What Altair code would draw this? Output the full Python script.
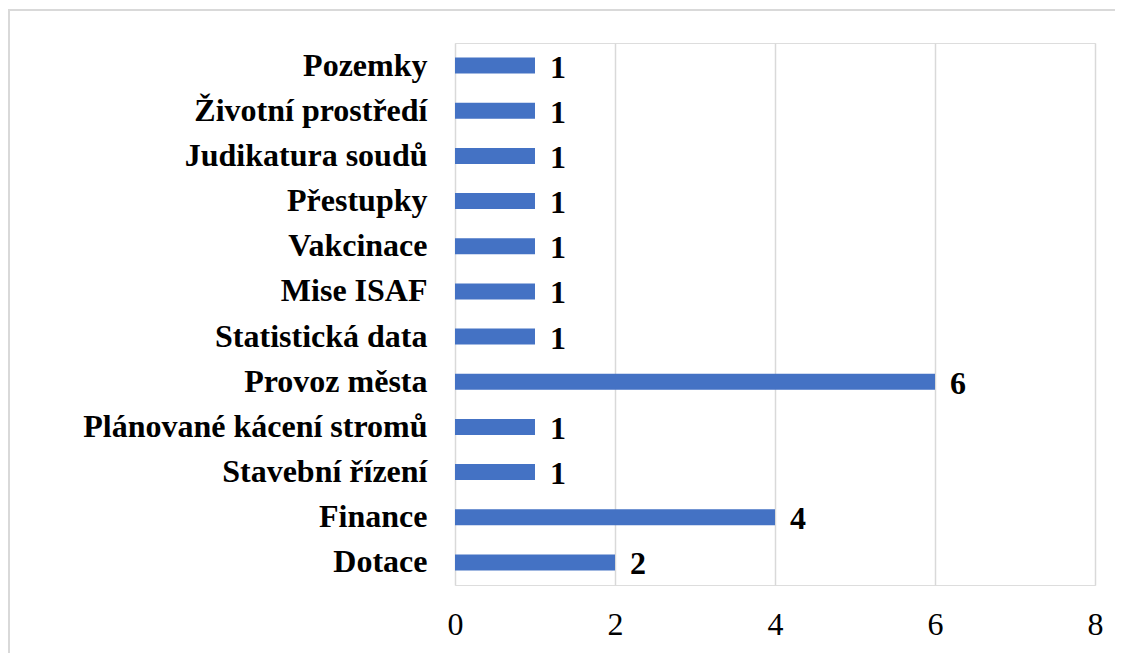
import altair as alt
import pandas as pd

categories = ["Pozemky", "Životní prostředí", "Judikatura soudů", "Přestupky",
              "Vakcinace", "Mise ISAF", "Statistická data", "Provoz města",
              "Plánované kácení stromů", "Stavební řízení", "Finance", "Dotace"]
values = [1, 1, 1, 1, 1, 1, 1, 6, 1, 1, 4, 2]
x_ticks = [0, 2, 4, 6, 8]

df = pd.DataFrame({"kategorie": categories, "pocet": values})

FONT = "Liberation Serif"
W, H = 640, 542

y_enc = alt.Y("kategorie:N", sort=categories,
              scale=alt.Scale(paddingInner=0, paddingOuter=0),
              axis=alt.Axis(title=None, domain=False, ticks=False, labelFont=FONT,
                            labelFontSize=32, labelFontWeight="bold", labelColor="#000000",
                            labelPadding=28, labelLimit=500))
x_enc = alt.X("pocet:Q", scale=alt.Scale(domain=[0, 8], nice=False),
              axis=alt.Axis(title=None, values=x_ticks, format="d", domain=False, ticks=False,
                            grid=True, gridColor="#d9d9d9", gridWidth=1.5, labelFlush=False,
                            labelFont=FONT, labelFontSize=32, labelColor="#000000",
                            labelPadding=24))

bars = alt.Chart(df).mark_bar(size=16, color="#4472C4").encode(x=x_enc, y=y_enc)

labels = alt.Chart(df).mark_text(align="left", baseline="middle", dx=15, dy=2,
                                 font=FONT, fontSize=32, fontWeight="bold",
                                 color="#000000").encode(
    x="pocet:Q", y=alt.Y("kategorie:N", sort=categories), text="pocet:Q")

frame = alt.Chart(df).mark_rect(fill=None, stroke="#d9d9d9", strokeWidth=1.5).encode(
    x=alt.value(-446), x2=alt.value(W + 60), y=alt.value(-33), y2=alt.value(H + 100))

chart = alt.layer(frame, bars, labels).properties(
    width=W, height=H,
    autosize=alt.AutoSizeParams(type="none"),
    padding={"left": 447, "top": 35, "right": 20, "bottom": 68},
).configure_view(stroke=None).configure(background="#ffffff")

chart.save("out.html", embed_options={"renderer": "svg", "actions": False})
